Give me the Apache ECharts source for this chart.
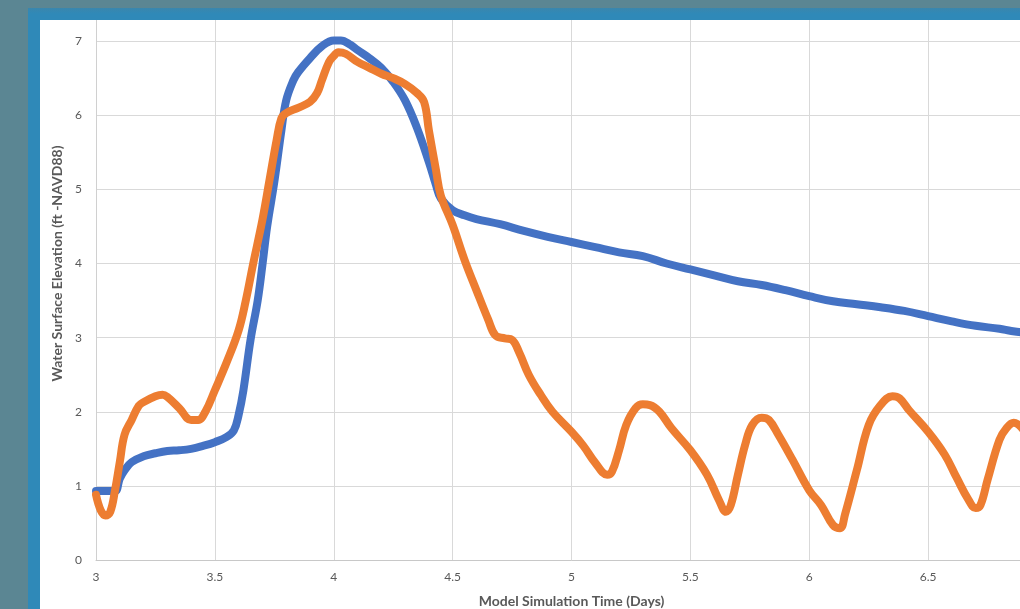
<!DOCTYPE html>
<html>
<head>
<meta charset="utf-8">
<script src="https://cdn.jsdelivr.net/npm/echarts@6/dist/echarts.min.js"></script>
<style>
  html, body { margin: 0; padding: 0; width: 1020px; height: 609px; overflow: hidden; background: #5b8693; }
  #frame { position: absolute; left: 28px; top: 8px; width: 1000px; height: 610px; background: linear-gradient(#3a86ad, #2f89b8 6px); }
  #panel { position: absolute; left: 40px; top: 20px; width: 980px; height: 589px; background: #ffffff; overflow: hidden; }
  #chart { position: absolute; left: 0; top: -60px; width: 1100px; height: 649px; }
</style>
</head>
<body>
<div id="frame"></div>
<div id="panel"><div id="chart"></div></div>
<script>
// ---- data ----
const xAxisName = 'Model Simulation Time (Days)';
const yAxisName = 'Water Surface Elevation (ft -NAVD88)';

const blueX = [3.0, 3.04, 3.08, 3.1, 3.12, 3.15, 3.2, 3.25, 3.3, 3.35, 3.4, 3.45, 3.5, 3.55, 3.58, 3.6, 3.62, 3.65, 3.68, 3.7, 3.72, 3.75, 3.78, 3.8, 3.83, 3.85, 3.9, 3.95, 4.0, 4.03, 4.07, 4.1, 4.15, 4.2, 4.25, 4.3, 4.35, 4.4, 4.43, 4.45, 4.5, 4.55, 4.6, 4.7, 4.8, 4.9, 5.0, 5.1, 5.2, 5.3, 5.4, 5.5, 5.6, 5.7, 5.8, 5.9, 6.0, 6.1, 6.2, 6.3, 6.4, 6.5, 6.6, 6.7, 6.8, 6.85, 6.9];
const blueY = [0.93, 0.93, 0.93, 1.1, 1.21, 1.32, 1.40, 1.44, 1.47, 1.48, 1.50, 1.54, 1.59, 1.66, 1.75, 1.96, 2.29, 2.97, 3.5, 3.98, 4.5, 5.1, 5.8, 6.2, 6.47, 6.58, 6.77, 6.93, 7.01, 7.01, 6.95, 6.88, 6.77, 6.64, 6.45, 6.2, 5.83, 5.37, 5.06, 4.88, 4.72, 4.65, 4.6, 4.53, 4.44, 4.36, 4.29, 4.22, 4.15, 4.1, 4.0, 3.92, 3.84, 3.76, 3.71, 3.64, 3.56, 3.49, 3.45, 3.41, 3.36, 3.29, 3.22, 3.16, 3.12, 3.09, 3.07];

const orangeX = [3.0, 3.02, 3.04, 3.06, 3.08, 3.1, 3.12, 3.15, 3.18, 3.2, 3.25, 3.28, 3.3, 3.35, 3.4, 3.43, 3.46, 3.5, 3.55, 3.6, 3.63, 3.66, 3.7, 3.73, 3.76, 3.78, 3.8, 3.85, 3.9, 3.93, 3.95, 3.98, 4.0, 4.02, 4.05, 4.1, 4.15, 4.2, 4.25, 4.3, 4.35, 4.38, 4.4, 4.43, 4.45, 4.5, 4.55, 4.6, 4.65, 4.68, 4.72, 4.75, 4.78, 4.82, 4.87, 4.92, 5.0, 5.05, 5.1, 5.15, 5.17, 5.2, 5.23, 5.27, 5.3, 5.33, 5.37, 5.42, 5.5, 5.57, 5.62, 5.65, 5.67, 5.7, 5.73, 5.76, 5.8, 5.83, 5.87, 5.93, 6.0, 6.05, 6.1, 6.13, 6.15, 6.2, 6.25, 6.3, 6.35, 6.38, 6.42, 6.5, 6.57, 6.62, 6.67, 6.7, 6.72, 6.75, 6.8, 6.83, 6.86, 6.9];
const orangeY = [0.88, 0.67, 0.6, 0.65, 0.94, 1.32, 1.69, 1.89, 2.08, 2.13, 2.21, 2.23, 2.2, 2.05, 1.89, 1.89, 2.0, 2.29, 2.67, 3.1, 3.5, 3.98, 4.59, 5.13, 5.67, 5.96, 6.03, 6.1, 6.18, 6.3, 6.47, 6.72, 6.8, 6.85, 6.83, 6.72, 6.64, 6.56, 6.5, 6.42, 6.3, 6.18, 5.8, 5.26, 4.92, 4.52, 4.05, 3.64, 3.24, 3.03, 2.99, 2.97, 2.8, 2.5, 2.23, 2.0, 1.73, 1.54, 1.31, 1.15, 1.19, 1.48, 1.82, 2.05, 2.1, 2.09, 2.0, 1.78, 1.48, 1.15, 0.81, 0.65, 0.74, 1.15, 1.55, 1.82, 1.92, 1.89, 1.69, 1.35, 0.94, 0.74, 0.47, 0.43, 0.61, 1.21, 1.82, 2.09, 2.21, 2.18, 2.02, 1.73, 1.42, 1.11, 0.81, 0.7, 0.74, 1.08, 1.62, 1.78, 1.85, 1.76];

const zip = (xs, ys) => xs.map((x, i) => [x, ys[i]]);

const chart = echarts.init(document.getElementById('chart'), null, { renderer: 'canvas' });
const labelStyle = { color: '#595959', fontSize: 12, fontFamily: 'Lato' };
chart.setOption({
  animation: false,
  grid: { left: 56, right: 93, top: 7, bottom: 49, containLabel: false, outerBoundsMode: 'none' },
  xAxis: {
    type: 'value', min: 3, max: 7, interval: 0.5,
    name: xAxisName, nameLocation: 'middle', nameGap: 34,
    nameTextStyle: { color: '#595959', fontSize: 14, fontWeight: 'bold', fontFamily: 'Lato' },
    axisLine: { show: true, lineStyle: { color: '#c8c8c8', width: 1 } },
    axisTick: { show: false },
    axisLabel: Object.assign({ margin: 11 }, labelStyle),
    splitLine: { show: true, lineStyle: { color: '#d9d9d9', width: 1 } }
  },
  yAxis: {
    type: 'value', min: 0, max: 8, interval: 1,
    name: yAxisName, nameLocation: 'middle', nameGap: 27, nameRotate: 90,
    nameTextStyle: { color: '#595959', fontSize: 14, fontWeight: 'bold', fontFamily: 'Lato' },
    axisLine: { show: true, lineStyle: { color: '#d0d0d0', width: 1 } },
    axisTick: { show: false },
    axisLabel: Object.assign({ margin: 14 }, labelStyle),
    splitLine: { show: true, lineStyle: { color: '#d9d9d9', width: 1 } }
  },
  series: [
    {
      name: 'Blue', type: 'line', data: zip(blueX, blueY), smooth: 0.4,
      showSymbol: false, lineStyle: { color: '#4472C4', width: 8, cap: 'round', join: 'round' }, z: 2
    },
    {
      name: 'Orange', type: 'line', data: zip(orangeX, orangeY), smooth: 0.4,
      showSymbol: false, lineStyle: { color: '#ED7D31', width: 8, cap: 'round', join: 'round' }, z: 3
    }
  ]
});
</script>
</body>
</html>
